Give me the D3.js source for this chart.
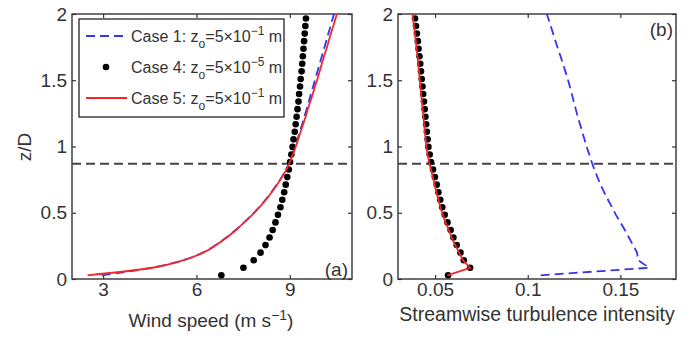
<!DOCTYPE html>
<html>
<head>
<meta charset="utf-8">
<script src="https://cdn.jsdelivr.net/npm/d3@7"></script>
<style>
  body { margin: 0; background: #fff; }
  svg { display: block; font-family: "Liberation Sans", Arial, sans-serif; }
  .tick text { fill: #333; font-size: 19px; }
  .domain { display: none; }
  .tick line { stroke: #333; stroke-width: 1.2; }
</style>
</head>
<body>
<div id="chart"></div>
<script>
// heights (z/D) of the simulation grid points
const zDots = [0.028, 0.085, 0.142, 0.199, 0.256, 0.313, 0.370, 0.427, 0.484, 0.541, 0.598, 0.655,
  0.712, 0.769, 0.826, 0.883, 0.940, 0.997, 1.054, 1.111, 1.168, 1.225, 1.282, 1.339, 1.396,
  1.453, 1.510, 1.567, 1.624, 1.681, 1.738, 1.795, 1.852, 1.909, 1.966];
const zLines = zDots.concat([2.023]);

// panel (a) wind speed, m/s
const windCase1 = [2.95, 4.57, 5.58, 6.20, 6.62, 6.96, 7.26, 7.53, 7.78, 8.01, 8.22, 8.41, 8.58, 8.74,
  8.88, 8.99, 9.08, 9.17, 9.25, 9.32, 9.40, 9.47, 9.54, 9.61, 9.68, 9.75, 9.82, 9.89, 9.96, 10.03,
  10.10, 10.17, 10.24, 10.31, 10.38, 10.45];
const windCase4 = [6.80, 7.51, 7.84, 8.06, 8.22, 8.35, 8.45, 8.54, 8.62, 8.70, 8.76, 8.82, 8.87, 8.92,
  8.97, 9.01, 9.05, 9.09, 9.12, 9.16, 9.19, 9.22, 9.25, 9.28, 9.30, 9.33, 9.35, 9.38, 9.40, 9.42,
  9.44, 9.46, 9.48, 9.50, 9.52];
const windCase5 = [2.50, 4.59, 5.59, 6.22, 6.63, 6.97, 7.27, 7.54, 7.79, 8.02, 8.23, 8.42, 8.59, 8.75,
  8.89, 9.00, 9.10, 9.19, 9.27, 9.35, 9.43, 9.51, 9.58, 9.66, 9.74, 9.81, 9.89, 9.96, 10.03, 10.10,
  10.18, 10.25, 10.32, 10.40, 10.47, 10.55];

// panel (b) streamwise turbulence intensity
const tiCase1 = [0.1070, 0.1655, 0.1595, 0.1590, 0.1568, 0.1546, 0.1524, 0.1500, 0.1476, 0.1455,
  0.1433, 0.1412, 0.1393, 0.1376, 0.1360, 0.1345, 0.1332, 0.1318, 0.1306, 0.1294, 0.1282, 0.1270,
  0.1259, 0.1248, 0.1238, 0.1227, 0.1216, 0.1203, 0.1190, 0.1177, 0.1163, 0.1150, 0.1137, 0.1124,
  0.1111, 0.1098];
const tiCase4 = [0.0570, 0.0689, 0.0655, 0.0637, 0.0617, 0.0599, 0.0584, 0.0567, 0.0552, 0.0539,
  0.0528, 0.0518, 0.0509, 0.0499, 0.0489, 0.0478, 0.0471, 0.0464, 0.0460, 0.0456, 0.0452, 0.0448,
  0.0444, 0.0440, 0.0436, 0.0432, 0.0428, 0.0424, 0.0420, 0.0416, 0.0411, 0.0407, 0.0402, 0.0397,
  0.0392];
const tiCase5 = [0.0566, 0.0689, 0.0650, 0.0630, 0.0609, 0.0590, 0.0574, 0.0557, 0.0542, 0.0529,
  0.0518, 0.0507, 0.0498, 0.0488, 0.0478, 0.0468, 0.0460, 0.0453, 0.0449, 0.0445, 0.0441, 0.0437,
  0.0433, 0.0429, 0.0425, 0.0421, 0.0417, 0.0413, 0.0409, 0.0405, 0.0400, 0.0396, 0.0391, 0.0386,
  0.0381, 0.0376];

const hubLevel = 0.87;
const yTicks = [0, 0.5, 1, 1.5, 2];
const windTicks = [3, 6, 9];
const tiTicks = [0.05, 0.1, 0.15];

const BLUE = "#3535f0", RED = "#f0282d", INK = "#333";

const svg = d3.select("#chart").append("svg")
  .attr("width", 690).attr("height", 337);

const plotTop = 14, plotBottom = 279;
const y = d3.scaleLinear().domain([0, 2]).range([plotBottom, plotTop]);

function panel(id, x0, x1, xDomain, xTicks, fmt) {
  const x = d3.scaleLinear().domain(xDomain).range([x0, x1]);
  const g = svg.append("g");

  g.append("clipPath").attr("id", "clip" + id)
    .append("rect").attr("x", x0).attr("y", plotTop).attr("width", x1 - x0).attr("height", plotBottom - plotTop);

  g.append("g").attr("transform", `translate(0,${plotBottom})`)
    .call(d3.axisBottom(x).tickValues(xTicks).tickFormat(fmt).tickSizeInner(-4).tickSizeOuter(0).tickPadding(3));
  g.append("g").attr("transform", `translate(0,${plotTop})`)
    .call(d3.axisTop(x).tickValues(xTicks).tickFormat("").tickSizeInner(-4).tickSizeOuter(0));
  g.append("g").attr("transform", `translate(${x0},0)`)
    .call(d3.axisLeft(y).tickValues(yTicks).tickFormat(d3.format("")).tickSizeInner(-4).tickSizeOuter(0).tickPadding(5));
  g.append("g").attr("transform", `translate(${x1},0)`)
    .call(d3.axisRight(y).tickValues(yTicks).tickFormat("").tickSizeInner(-4).tickSizeOuter(0));

  g.append("rect").attr("x", x0).attr("y", plotTop).attr("width", x1 - x0).attr("height", plotBottom - plotTop)
    .attr("fill", "none").attr("stroke", INK).attr("stroke-width", 1.4);

  const plot = g.append("g").attr("clip-path", `url(#clip${id})`);

  plot.append("line")
    .attr("x1", x0).attr("x2", x1).attr("y1", y(hubLevel)).attr("y2", y(hubLevel))
    .attr("stroke", "#444").attr("stroke-width", 1.8).attr("stroke-dasharray", "9,5");

  return { x, plot };
}

function profile(p, xs, zs, color, dash, curve) {
  const line = d3.line().x(d => p.x(d[0])).y(d => y(d[1])).curve(curve || d3.curveLinear);
  p.plot.append("path").datum(d3.zip(xs, zs))
    .attr("d", line).attr("fill", "none").attr("stroke", color)
    .attr("stroke-width", 1.8).attr("stroke-dasharray", dash || null);
}

function dots(p, xs, zs) {
  p.plot.selectAll(null).data(d3.zip(xs, zs)).enter().append("circle")
    .attr("cx", d => p.x(d[0])).attr("cy", d => y(d[1])).attr("r", 3.3).attr("fill", "#000");
}

// panel (a)
const pa = panel("a", 72, 352, [2, 11], windTicks, d3.format(""));
profile(pa, windCase1, zLines, BLUE, "9,5", d3.curveMonotoneY);
dots(pa, windCase4, zDots);
profile(pa, windCase5, zLines, RED, null, d3.curveMonotoneY);

// panel (b)
const pb = panel("b", 398, 676, [0.03, 0.18], tiTicks, d3.format(""));
profile(pb, tiCase1, zLines, BLUE, "9,5");
dots(pb, tiCase4, zDots);
profile(pb, tiCase5, zLines, RED);

// panel letters
svg.append("text").attr("x", 348).attr("y", 276).attr("text-anchor", "end")
  .attr("font-size", 19).attr("fill", INK).text("(a)");
svg.append("text").attr("x", 673).attr("y", 36).attr("text-anchor", "end")
  .attr("font-size", 19).attr("fill", INK).text("(b)");

// axis labels
svg.append("text").attr("transform", "translate(31,147) rotate(-90)").attr("text-anchor", "middle")
  .attr("font-size", 19).attr("fill", INK).text("z/D");

const wl = svg.append("text").attr("x", 211).attr("y", 327).attr("text-anchor", "middle")
  .attr("font-size", 19).attr("fill", INK);
wl.append("tspan").text("Wind speed (m s");
wl.append("tspan").attr("dy", -7).attr("font-size", 14).text("−1");
wl.append("tspan").attr("dy", 7).text(")");

svg.append("text").attr("x", 537).attr("y", 321).attr("text-anchor", "middle")
  .attr("font-size", 19.5).attr("fill", INK).text("Streamwise turbulence intensity");

// legend
const legendItems = [
  { label: "Case 1: z", exp: "−1", kind: "dash", color: BLUE },
  { label: "Case 4: z", exp: "−5", kind: "dot", color: "#000" },
  { label: "Case 5: z", exp: "−1", kind: "line", color: RED }
];
const lg = svg.append("g");
lg.append("rect").attr("x", 79).attr("y", 19).attr("width", 205).attr("height", 98)
  .attr("fill", "#fff").attr("stroke", INK).attr("stroke-width", 1.4);
legendItems.forEach((d, i) => {
  const cy = 36 + i * 31;
  if (d.kind === "dot") {
    lg.append("circle").attr("cx", 106).attr("cy", cy).attr("r", 3.3).attr("fill", d.color);
  } else {
    lg.append("line").attr("x1", 86).attr("x2", 127).attr("y1", cy).attr("y2", cy)
      .attr("stroke", d.color).attr("stroke-width", 1.8)
      .attr("stroke-dasharray", d.kind === "dash" ? "9,5" : null);
  }
  const t = lg.append("text").attr("x", 131).attr("y", cy + 6).attr("font-size", 16).attr("fill", INK);
  t.append("tspan").text(d.label);
  t.append("tspan").attr("dy", 6).attr("font-size", 12).text("o");
  t.append("tspan").attr("dy", -6).text("=5×10");
  t.append("tspan").attr("dy", -7).attr("font-size", 12).text(d.exp);
  t.append("tspan").attr("dy", 7).text(" m");
});
</script>
</body>
</html>
